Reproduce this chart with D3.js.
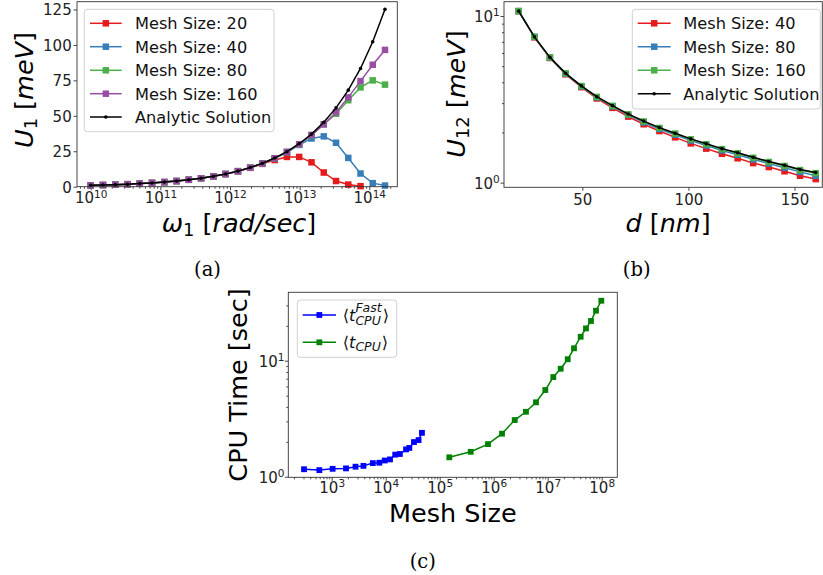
<!DOCTYPE html>
<html>
<head>
<meta charset="utf-8">
<script src="https://cdn.jsdelivr.net/npm/d3@7"></script>
<style>
    body { margin: 0; background: #fff; }
    svg { display: block; font-family: "DejaVu Sans", sans-serif; }
    .legend-text { font-size: 16.2px; fill: #111; }
    .axis-title { font-size: 25.5px; fill: #000; }
    .caption { font-family: "DejaVu Serif", serif; font-size: 19.5px; fill: #000; }
</style>
</head>
<body>
<svg id="fig" width="823" height="575"></svg>
<script>
// ---- panel (a): U1 vs omega1 ----
const omega = [1.0e10, 1.5e10, 2.25e10, 3.38e10, 5.06e10, 7.59e10, 1.14e11, 1.71e11, 2.56e11,
    3.84e11, 5.77e11, 8.65e11, 1.30e12, 1.95e12, 2.92e12, 4.38e12, 6.57e12, 9.85e12, 1.48e13,
    2.22e13, 3.33e13, 4.99e13, 7.48e13, 1.12e14, 1.68e14];
const u1Analytic = [0.96, 1.18, 1.45, 1.77, 2.17, 2.66, 3.25, 3.99, 4.88, 5.98, 7.33, 8.97, 11.0,
    13.5, 16.5, 20.2, 24.7, 30.3, 37.1, 45.4, 55.6, 68.1, 83.4, 102.2, 125.1];
const u1Mesh20 = [0.96, 1.18, 1.45, 1.77, 2.17, 2.66, 3.25, 3.98, 4.87, 5.96, 7.3, 8.9, 10.9,
    13.3, 16.1, 18.8, 21.0, 21.0, 17.2, 10.0, 4.0, 1.5, 0.4];
const u1Mesh40 = [0.96, 1.18, 1.45, 1.77, 2.17, 2.66, 3.25, 3.98, 4.88, 5.97, 7.32, 8.95, 10.95,
    13.4, 16.4, 20.0, 24.3, 29.5, 34.0, 35.5, 31.0, 20.3, 9.3, 2.5, 0.8];
const u1Mesh80 = [0.96, 1.18, 1.45, 1.77, 2.17, 2.66, 3.25, 3.98, 4.88, 5.97, 7.32, 8.95, 10.95,
    13.4, 16.4, 20.1, 24.5, 29.9, 36.3, 44.0, 51.5, 61.0, 70.0, 75.0, 72.0];
const u1Mesh160 = [0.96, 1.18, 1.45, 1.77, 2.17, 2.66, 3.25, 3.98, 4.88, 5.97, 7.32, 8.95, 10.95,
    13.4, 16.4, 20.1, 24.6, 30.0, 36.5, 44.0, 52.5, 63.0, 74.5, 86.0, 96.5];
const u1Ticks = [0, 25, 50, 75, 100, 125];

// ---- panel (b): U12 vs d ----
const dist = [20, 27.4, 34.7, 42.1, 49.5, 56.8, 64.2, 71.6, 78.9, 86.3, 93.7, 101.1, 108.4,
    115.8, 123.2, 130.5, 137.9, 145.3, 152.6, 160];
const u12Analytic = [10.7, 7.5, 5.65, 4.53, 3.81, 3.28, 2.90, 2.58, 2.34, 2.14, 1.98, 1.83, 1.71,
    1.60, 1.51, 1.42, 1.34, 1.27, 1.20, 1.15];
const u12Mesh40 = [10.7, 7.45, 5.6, 4.47, 3.74, 3.2, 2.81, 2.49, 2.24, 2.04, 1.87, 1.72, 1.60,
    1.49, 1.40, 1.31, 1.24, 1.17, 1.10, 1.05];
const u12Mesh80 = [10.7, 7.5, 5.63, 4.51, 3.78, 3.25, 2.87, 2.55, 2.30, 2.10, 1.94, 1.79, 1.67,
    1.56, 1.47, 1.38, 1.30, 1.23, 1.16, 1.10];
const u12Mesh160 = [10.7, 7.5, 5.65, 4.53, 3.80, 3.27, 2.89, 2.57, 2.33, 2.13, 1.97, 1.82, 1.70,
    1.59, 1.50, 1.41, 1.33, 1.26, 1.19, 1.14];
const distTicks = [50, 100, 150];

// ---- panel (c): CPU time vs mesh size ----
const fastSize = [307, 590, 1040, 1840, 2760, 3870, 5770, 7620, 9590, 12000, 15000, 18300, 23800,
    27400, 33400, 40600, 46900];
const fastTime = [1.16, 1.14, 1.17, 1.18, 1.22, 1.24, 1.31, 1.32, 1.38, 1.41, 1.55, 1.57, 1.72,
    1.77, 1.99, 2.07, 2.39];
const cpuSize = [1.507e5, 3.75e5, 7.84e5, 1.425e6, 2.45e6, 3.96e6, 6.07e6, 9.03e6, 1.27e7, 1.74e7,
    2.35e7, 3.07e7, 4.08e7, 5.12e7, 6.33e7, 7.84e7, 9.84e7];
const cpuTime = [1.47, 1.64, 1.91, 2.35, 3.08, 3.63, 4.38, 5.59, 7.23, 8.53, 10.3, 12.8, 16.1,
    19.0, 22.0, 27.0, 32.9];

const RED = "#e41a1c", BLUE = "#377eb8", GREEN = "#4daf4a", PURPLE = "#984ea3";

const svg = d3.select("#fig");

// major (10^n) and minor (m*10^n) tick values inside a log domain
function logTickValues(scale) {
    let [a, b] = scale.domain();
    let majors = [], minors = [];
    for (let p = Math.floor(Math.log10(a)); p <= Math.ceil(Math.log10(b)); p++) {
        for (let m = 1; m < 10; m++) {
            let v = m * Math.pow(10, p);
            if (v < a || v > b) continue;
            if (m === 1) majors.push(v); else minors.push(v);
        }
    }
    return {majors: majors, minors: minors};
}

// "10" with the exponent as superscript
function powerLabel(textSel) {
    textSel.each(function(d) {
        let t = d3.select(this);
        let p = Math.round(Math.log10(d));
        t.text(null);
        t.append("tspan").text("10");
        t.append("tspan").attr("dy", "-0.55em").style("font-size", "0.7em").text(p);
    });
}

function styleAxis(ax) {
    ax.select(".domain").remove();
    ax.attr("color", "#333").attr("font-family", null).attr("font-size", null);
    ax.selectAll(".tick line").attr("stroke-width", 0.9);
    ax.selectAll(".tick text").style("font-size", "15px").attr("fill", "#222");
}

function bottomAxis(g, b, scale, values, isLog, pad) {
    if (isLog) {
        let mt = logTickValues(scale);
        let minor = g.append("g").attr("transform", `translate(0,${b.bottom})`)
            .call(d3.axisBottom(scale).tickValues(mt.minors).tickSize(2).tickFormat(""));
        styleAxis(minor);
        values = mt.majors;
    }
    let ax = g.append("g").attr("transform", `translate(0,${b.bottom})`)
        .call(d3.axisBottom(scale).tickValues(values).tickSize(3.5).tickPadding(pad));
    styleAxis(ax);
    if (isLog) powerLabel(ax.selectAll(".tick text"));
}

function leftAxis(g, b, scale, values, isLog, pad) {
    if (isLog) {
        let mt = logTickValues(scale);
        let minor = g.append("g").attr("transform", `translate(${b.left},0)`)
            .call(d3.axisLeft(scale).tickValues(mt.minors).tickSize(2).tickFormat(""));
        styleAxis(minor);
        values = mt.majors;
    }
    let ax = g.append("g").attr("transform", `translate(${b.left},0)`)
        .call(d3.axisLeft(scale).tickValues(values).tickSize(3.5).tickPadding(pad));
    styleAxis(ax);
    ax.selectAll(".tick text").attr("dy", "0.36em");
    if (isLog) powerLabel(ax.selectAll(".tick text"));
}

function frame(g, b) {
    g.append("rect")
        .attr("x", b.left).attr("y", b.top)
        .attr("width", b.right - b.left).attr("height", b.bottom - b.top)
        .attr("fill", "none").attr("stroke", "#333").attr("stroke-width", 0.9);
}

function series(g, x, y, xs, ys, color, marker, size) {
    let pts = ys.map(function(v, i) { return [xs[i], v]; });
    let s = g.append("g");
    s.append("path")
        .datum(pts)
        .attr("d", d3.line().x(d => x(d[0])).y(d => y(d[1])))
        .attr("fill", "none")
        .attr("stroke", color)
        .attr("stroke-width", 1.5);
    if (marker === "square") {
        s.selectAll("rect").data(pts).enter().append("rect")
            .attr("x", d => x(d[0]) - size / 2)
            .attr("y", d => y(d[1]) - size / 2)
            .attr("width", size).attr("height", size)
            .attr("fill", color);
    } else {
        s.selectAll("circle").data(pts).enter().append("circle")
            .attr("cx", d => x(d[0])).attr("cy", d => y(d[1]))
            .attr("r", size).attr("fill", color);
    }
}

function legend(g, box, lineX, textX, rowsY, items) {
    g.append("rect")
        .attr("x", box[0]).attr("y", box[1]).attr("width", box[2]).attr("height", box[3])
        .attr("rx", 3).attr("fill", "#fff").attr("fill-opacity", 0.8)
        .attr("stroke", "#d0d0d0").attr("stroke-width", 1);
    items.forEach(function(it, i) {
        let yy = rowsY[i];
        let mid = (lineX[0] + lineX[1]) / 2;
        g.append("line")
            .attr("x1", lineX[0]).attr("x2", lineX[1]).attr("y1", yy).attr("y2", yy)
            .attr("stroke", it.color).attr("stroke-width", 1.5);
        if (it.marker === "square") {
            g.append("rect").attr("x", mid - it.size / 2).attr("y", yy - it.size / 2)
                .attr("width", it.size).attr("height", it.size).attr("fill", it.color);
        } else {
            g.append("circle").attr("cx", mid).attr("cy", yy).attr("r", it.size).attr("fill", it.color);
        }
        if (it.label) {
            g.append("text").attr("class", "legend-text")
                .attr("x", textX).attr("y", yy).attr("dy", "0.36em").text(it.label);
        } else {
            it.draw(g, textX, yy);
        }
    });
}

// ================= panel (a) =================
const A = {left: 77, right: 397.3, top: 1.7, bottom: 186.7};
const xA = d3.scaleLog().domain([Math.pow(10, 9.803), Math.pow(10, 14.402)]).range([A.left, A.right]);
const yA = d3.scaleLinear().domain([0, 130.5]).range([A.bottom, A.top]);
let gA = svg.append("g");
bottomAxis(gA, A, xA, null, true, 2.6);
leftAxis(gA, A, yA, u1Ticks, false, 1.8);
series(gA, xA, yA, omega, u1Mesh20, RED, "square", 6.5);
series(gA, xA, yA, omega, u1Mesh40, BLUE, "square", 6.5);
series(gA, xA, yA, omega, u1Mesh80, GREEN, "square", 6.5);
series(gA, xA, yA, omega, u1Mesh160, PURPLE, "square", 6.5);
series(gA, xA, yA, omega, u1Analytic, "#000", "dot", 1.8);
frame(gA, A);
legend(gA, [84.3, 9.3, 189.7, 122.4], [90, 121.7], 135, [23.3, 46.7, 70.3, 93.7, 117], [
    {color: RED, marker: "square", size: 6.5, label: "Mesh Size: 20"},
    {color: BLUE, marker: "square", size: 6.5, label: "Mesh Size: 40"},
    {color: GREEN, marker: "square", size: 6.5, label: "Mesh Size: 80"},
    {color: PURPLE, marker: "square", size: 6.5, label: "Mesh Size: 160"},
    {color: "#000", marker: "dot", size: 1.8, label: "Analytic Solution"}
]);

// axis titles (a)
let tA = gA.append("text").attr("class", "axis-title").attr("text-anchor", "middle")
    .attr("transform", "translate(33,90) rotate(-90)");
tA.append("tspan").style("font-style", "italic").text("U");
tA.append("tspan").style("font-size", "0.7em").attr("dy", "0.25em").text("1");
tA.append("tspan").attr("dy", "-0.175em").text(" [");
tA.append("tspan").style("font-style", "italic").text("meV");
tA.append("tspan").text("]");

let xtA = gA.append("text").attr("class", "axis-title").attr("text-anchor", "middle")
    .attr("x", 239).attr("y", 231.5);
xtA.append("tspan").style("font-style", "italic").text("ω");
xtA.append("tspan").style("font-size", "0.7em").attr("dy", "0.25em").text("1");
xtA.append("tspan").attr("dy", "-0.175em").text(" [");
xtA.append("tspan").style("font-style", "italic").text("rad/sec");
xtA.append("tspan").text("]");

svg.append("text").attr("class", "caption").attr("text-anchor", "middle")
    .attr("x", 207.5).attr("y", 275.5).text("(a)");

// ================= panel (b) =================
const B = {left: 504, right: 822.3, top: 1.7, bottom: 187.3};
const xB = d3.scaleLinear().domain([13.07, 163.1]).range([B.left, B.right]);
const yB = d3.scaleLog().domain([Math.pow(10, -0.028), Math.pow(10, 1.086)]).range([B.bottom, B.top]);
let gB = svg.append("g");
bottomAxis(gB, B, xB, distTicks, false, 3.4);
leftAxis(gB, B, yB, null, true, 0.8);
series(gB, xB, yB, dist, u12Mesh40, RED, "square", 6.5);
series(gB, xB, yB, dist, u12Mesh80, BLUE, "square", 6.5);
series(gB, xB, yB, dist, u12Mesh160, GREEN, "square", 6.5);
series(gB, xB, yB, dist, u12Analytic, "#000", "dot", 1.8);
frame(gB, B);
legend(gB, [632.3, 9.3, 188, 99.7], [637.7, 670.7], 683.3, [23.3, 46.7, 70.3, 93.7], [
    {color: RED, marker: "square", size: 6.5, label: "Mesh Size: 40"},
    {color: BLUE, marker: "square", size: 6.5, label: "Mesh Size: 80"},
    {color: GREEN, marker: "square", size: 6.5, label: "Mesh Size: 160"},
    {color: "#000", marker: "dot", size: 1.8, label: "Analytic Solution"}
]);

let tB = gB.append("text").attr("class", "axis-title").attr("text-anchor", "middle")
    .attr("transform", "translate(465,94) rotate(-90)");
tB.append("tspan").style("font-style", "italic").text("U");
tB.append("tspan").style("font-size", "0.7em").attr("dy", "0.25em").text("12");
tB.append("tspan").attr("dy", "-0.175em").text(" [");
tB.append("tspan").style("font-style", "italic").text("meV");
tB.append("tspan").text("]");

let xtB = gB.append("text").attr("class", "axis-title").attr("text-anchor", "middle")
    .attr("x", 668).attr("y", 231.5);
xtB.append("tspan").style("font-style", "italic").text("d");
xtB.append("tspan").text(" [");
xtB.append("tspan").style("font-style", "italic").text("nm");
xtB.append("tspan").text("]");

svg.append("text").attr("class", "caption").attr("text-anchor", "middle")
    .attr("x", 636.7).attr("y", 275.5).text("(b)");

// ================= panel (c) =================
const C = {left: 288.3, right: 617.3, top: 292.3, bottom: 477.3};
const xC = d3.scaleLog().domain([Math.pow(10, 2.196), Math.pow(10, 8.289)]).range([C.left, C.right]);
const yC = d3.scaleLog().domain([Math.pow(10, -0.005), Math.pow(10, 1.59)]).range([C.bottom, C.top]);
let gC = svg.append("g");
bottomAxis(gC, C, xC, null, true, 1.2);
leftAxis(gC, C, yC, null, true, 0.3);
series(gC, xC, yC, fastSize, fastTime, "#0000ff", "square", 5.8);
series(gC, xC, yC, cpuSize, cpuTime, "#008000", "square", 5.8);
frame(gC, C);

// legend labels with stacked super/subscripts
function tLabel(sup) {
    return function(g, x, y) {
        let base = g.append("text").attr("class", "legend-text").attr("x", x).attr("y", y).attr("dy", "0.36em");
        base.append("tspan").text("⟨");
        base.append("tspan").style("font-style", "italic").text("t");
        let w = base.node().getComputedTextLength();
        let wSup = 0;
        if (sup) {
            let s = g.append("text").attr("class", "legend-text").style("font-size", "12.5px")
                .style("font-style", "italic").attr("x", x + w).attr("y", y - 3.5).text(sup);
            wSup = s.node().getComputedTextLength();
        }
        let sub = g.append("text").attr("class", "legend-text").style("font-size", "12.5px")
            .style("font-style", "italic").attr("x", x + w).attr("y", y + (sup ? 10 : 8.5)).text("CPU");
        let wSub = sub.node().getComputedTextLength();
        g.append("text").attr("class", "legend-text").attr("x", x + w + Math.max(wSup, wSub) + 1)
            .attr("y", y).attr("dy", "0.36em").text("⟩");
    };
}

legend(gC, [297.3, 300, 99.4, 57.3], [302.7, 336], 342.7, [315, 342.3], [
    {color: "#0000ff", marker: "square", size: 5.8, draw: tLabel("Fast")},
    {color: "#008000", marker: "square", size: 5.8, draw: tLabel(null)}
]);

gC.append("text").attr("class", "axis-title").attr("text-anchor", "middle")
    .attr("transform", "translate(246.5,385) rotate(-90)")
    .text("CPU Time [sec]");
gC.append("text").attr("class", "axis-title").attr("text-anchor", "middle")
    .attr("x", 452.8).attr("y", 522).text("Mesh Size");

svg.append("text").attr("class", "caption").attr("text-anchor", "middle")
    .attr("x", 422.7).attr("y", 568).text("(c)");
</script>
</body>
</html>
